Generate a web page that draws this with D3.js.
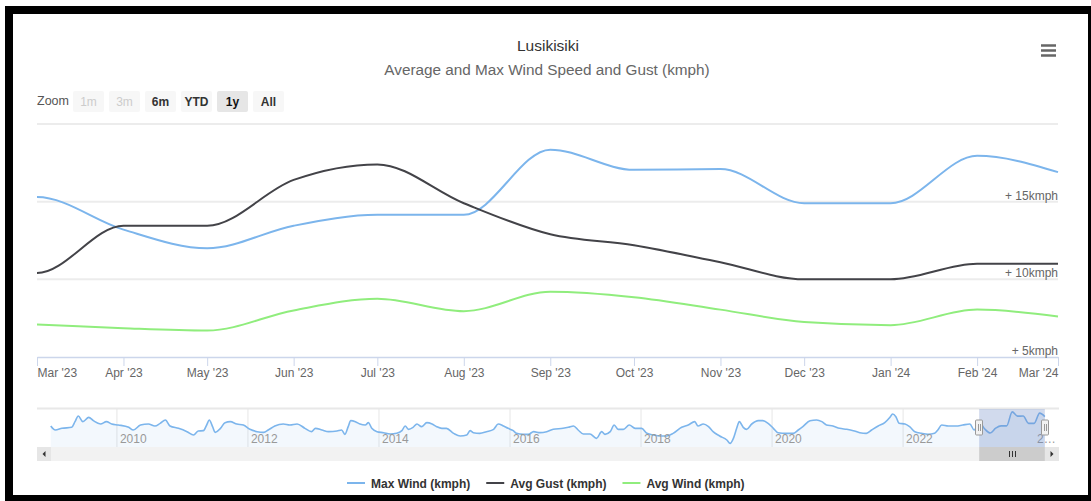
<!DOCTYPE html>
<html>
<head>
<meta charset="utf-8">
<script src="https://cdn.jsdelivr.net/npm/d3@7"></script>
<style>
  body { margin: 0; background: #fff; }
  svg text { font-family: "Liberation Sans", Arial, sans-serif; }
</style>
</head>
<body>
<div id="chart"></div>
<script>
// monthly values; Feb '23 sits just left of the visible window (clipped), Mar '23 .. Mar '24 shown
const months = ["2023-02", "2023-03", "2023-04", "2023-05", "2023-06", "2023-07", "2023-08", "2023-09",
  "2023-10", "2023-11", "2023-12", "2024-01", "2024-02", "2024-03"];
const maxWind = [12.9, 15.3, 13.2, 12.0, 13.45, 14.15, 14.15, 18.35, 17.05, 17.1, 14.9, 14.9, 17.95, 16.9];
const avgGust = [11.5, 10.4, 13.45, 13.45, 16.4, 17.4, 14.9, 12.9, 12.2, 11.1, 10.0, 10.0, 11.0, 11.0];
const avgWind = [7.3, 7.1, 6.85, 6.7, 8.0, 8.75, 7.95, 9.2, 8.85, 8.05, 7.25, 7.05, 8.05, 7.6];

const seriesNames = ["Max Wind (kmph)", "Avg Gust (kmph)", "Avg Wind (kmph)"];
const seriesColors = ["#7cb5ec", "#434348", "#90ed7d"];

const yTicks = [5, 10, 15, 20];
const yTickLabels = ["+ 5kmph", "+ 10kmph", "+ 15kmph", ""];

const rangeButtons = ["1m", "3m", "6m", "YTD", "1y", "All"];
const rangeState = ["disabled", "disabled", "normal", "normal", "selected", "normal"];

// navigator (whole history of max wind), decimal years, read from the overview strip
const navYear = [2008.99,2009.06,2009.16,2009.31,2009.36,2009.41,2009.48,2009.57,2009.64,2009.75,2009.84,2009.92,
  2010.02,2010.18,2010.25,2010.36,2010.48,2010.58,2010.66,2010.74,2010.81,2010.94,
  2011.07,2011.17,2011.24,2011.32,2011.37,2011.41,2011.46,2011.50,2011.58,2011.65,2011.73,2011.83,2011.93,
  2012.03,2012.14,2012.24,2012.31,2012.41,2012.54,2012.64,
  2012.75,2012.87,2012.97,2013.03,2013.13,2013.23,2013.36,2013.43,2013.48,2013.53,2013.57,2013.64,2013.71,2013.79,2013.84,2013.89,
  2013.97,2014.07,2014.17,2014.27,2014.35,2014.40,2014.45,2014.52,2014.58,2014.65,2014.73,2014.81,2014.88,2014.96,
  2015.03,2015.14,2015.24,2015.34,2015.39,2015.44,2015.54,2015.64,2015.75,2015.82,2015.90,2015.97,2016.05,2016.10,2016.20,2016.28,2016.36,2016.46,2016.56,2016.66,
  2016.81,2016.89,2016.97,2017.04,2017.12,2017.22,2017.32,2017.40,2017.45,2017.53,2017.59,2017.65,2017.73,2017.82,2017.91,
  2018.01,2018.09,2018.19,2018.29,2018.39,2018.49,2018.62,2018.72,2018.82,2018.87,2018.95,2019.03,2019.10,2019.20,2019.31,2019.36,2019.41,
  2019.46,2019.50,2019.56,2019.61,2019.69,2019.79,2019.86,2019.94,2020.02,2020.09,2020.22,2020.32,2020.40,2020.47,2020.58,2020.68,
  2020.76,2020.83,2020.93,2021.03,2021.14,2021.24,2021.34,2021.44,2021.52,2021.62,2021.72,2021.80,2021.84,2021.89,2021.94,
  2022.03,2022.10,2022.18,2022.28,2022.38,2022.48,2022.53,2022.59,2022.69,2022.81,2022.91,2023.02];
const navMaxWind = [14.1,12.9,13.4,13.7,15.4,17.1,15.4,16.7,15.7,14.7,15.4,14.7,
  14.4,13.7,12.9,14.4,14.7,14.1,14.9,15.9,14.1,13.4,
  12.4,11.4,12.6,12.7,14.4,15.9,13.9,12.2,13.4,15.1,15.4,14.7,14.4,
  13.1,12.4,12.2,12.9,14.1,14.7,14.4,
  14.7,13.4,12.4,13.4,12.9,12.4,12.6,12.9,11.6,13.9,15.7,15.4,14.7,14.4,15.1,13.4,
  12.4,12.1,11.7,11.9,12.7,14.1,13.1,13.7,14.7,13.9,15.1,14.7,13.9,13.4,
  13.4,11.9,11.1,11.4,12.7,12.1,11.9,12.4,13.1,14.7,14.1,13.4,12.7,11.9,11.6,11.6,12.4,12.1,12.4,13.1,
  13.4,13.7,14.1,12.9,11.7,11.7,10.4,12.4,11.6,12.4,14.4,13.1,13.1,14.4,13.4,
  13.4,11.9,11.4,11.1,11.1,11.9,13.7,14.4,15.4,14.1,14.7,13.9,12.4,11.1,9.9,8.9,10.4,
  13.4,15.4,13.7,13.1,14.7,15.7,15.7,14.9,13.4,12.1,11.9,11.9,12.9,13.9,15.7,15.9,
  15.4,14.4,14.1,13.4,13.1,12.7,12.1,11.9,12.9,14.1,15.1,16.7,17.7,16.9,14.9,
  14.7,13.9,12.4,11.9,11.6,11.9,12.9,14.4,14.1,14.1,14.4,14.7];
const navYearTicks = [2010, 2012, 2014, 2016, 2018, 2020, 2022, 2024];
const navYearLabels = ["2010", "2012", "2014", "2016", "2018", "2020", "2022", "2\u2026"];

const W = 1091, H = 501;
const parseMonth = d3.timeParse("%Y-%m");
const dates = months.map(parseMonth);
const visStart = dates[1], visEnd = dates[dates.length - 1];

function decYear(d) {
  const y = d.getFullYear();
  const a = new Date(y, 0, 1), b = new Date(y + 1, 0, 1);
  return y + (d - a) / (b - a);
}

const svg = d3.select("#chart")
  .append("svg")
  .attr("width", W)
  .attr("height", H);

/* frame */
svg.append("rect")
  .attr("x", 9).attr("y", 10)
  .attr("width", 1083).attr("height", 489)
  .attr("fill", "#fff")
  .attr("stroke", "#000")
  .attr("stroke-width", 8);

/* titles */
svg.append("text")
  .attr("x", 548).attr("y", 51)
  .attr("text-anchor", "middle")
  .attr("font-size", 15.5)
  .attr("fill", "#333")
  .text("Lusikisiki");

svg.append("text")
  .attr("x", 547).attr("y", 75)
  .attr("text-anchor", "middle")
  .attr("font-size", 15.3)
  .attr("fill", "#666")
  .text("Average and Max Wind Speed and Gust (kmph)");

// hamburger menu
[45.5, 50.5, 55.5].forEach(yy => {
  svg.append("line")
    .attr("x1", 1041).attr("x2", 1056)
    .attr("y1", yy).attr("y2", yy)
    .attr("stroke", "#666")
    .attr("stroke-width", 2.5);
});

/* range selector */
svg.append("text")
  .attr("x", 37).attr("y", 105)
  .attr("font-size", 12.5)
  .attr("fill", "#555")
  .text("Zoom");

const btn = svg.append("g").selectAll("g")
  .data(rangeButtons)
  .join("g")
  .attr("transform", (d, i) => `translate(${73 + i * 36},91)`);

btn.append("rect")
  .attr("width", 31).attr("height", 21).attr("rx", 2)
  .attr("fill", (d, i) => rangeState[i] === "selected" ? "#e6e6e6" : "#f7f7f7");

btn.append("text")
  .attr("x", 15.5).attr("y", 14.5)
  .attr("text-anchor", "middle")
  .attr("font-size", 12)
  .attr("font-weight", (d, i) => rangeState[i] === "disabled" ? "normal" : "bold")
  .attr("fill", (d, i) => rangeState[i] === "disabled" ? "#cccccc" : (rangeState[i] === "selected" ? "#111" : "#333"))
  .text(d => d);

/* main plot */
const plot = { left: 37, right: 1058, top: 124, bottom: 357 };

const x = d3.scaleTime()
  .domain([visStart, visEnd])
  .range([plot.left, plot.right]);

const y = d3.scaleLinear()
  .domain([5, 20])
  .range([plot.bottom, plot.top]);

svg.append("clipPath")
  .attr("id", "plot-clip")
  .append("rect")
  .attr("x", plot.left).attr("y", 0)
  .attr("width", plot.right - plot.left + 1).attr("height", H);

// horizontal grid
svg.append("g")
  .selectAll("line")
  .data(yTicks.filter(v => v > 5))
  .join("line")
  .attr("x1", plot.left).attr("x2", plot.right)
  .attr("y1", d => y(d)).attr("y2", d => y(d))
  .attr("stroke", "#ececec")
  .attr("stroke-width", 2);

// x axis
const xAxisG = svg.append("g")
  .attr("transform", `translate(0,${plot.bottom})`)
  .call(d3.axisBottom(x)
    .ticks(d3.timeMonth.every(1))
    .tickFormat(d3.timeFormat("%b '%y"))
    .tickSize(9)
    .tickSizeOuter(0)
    .tickPadding(2));

xAxisG.select(".domain").attr("stroke", "#ccd6eb").attr("stroke-width", 1.5);
xAxisG.selectAll(".tick line").attr("stroke", "#ccd6eb");
xAxisG.selectAll(".tick text")
  .attr("fill", "#666")
  .attr("font-size", 12)
  .attr("font-family", null);
const tickTexts = xAxisG.selectAll(".tick text").nodes();
d3.select(tickTexts[0]).attr("text-anchor", "start");
d3.select(tickTexts[tickTexts.length - 1]).attr("text-anchor", "end");

// y labels, right side inside the plot
svg.append("g")
  .selectAll("text")
  .data(yTicks)
  .join("text")
  .attr("x", plot.right)
  .attr("y", d => y(d) - 2)
  .attr("text-anchor", "end")
  .attr("font-size", 12)
  .attr("fill", "#666")
  .text((d, i) => yTickLabels[i]);

// series
const allSeries = [maxWind, avgGust, avgWind];
const line = d3.line()
  .x((d, i) => x(dates[i]))
  .y(d => y(d))
  .curve(d3.curveMonotoneX);

const seriesG = svg.append("g").attr("clip-path", "url(#plot-clip)");
allSeries.forEach((vals, s) => {
  seriesG.append("path")
    .datum(vals)
    .attr("fill", "none")
    .attr("stroke", seriesColors[s])
    .attr("stroke-width", 2)
    .attr("stroke-linejoin", "round")
    .attr("d", line);
});

/* navigator */
const nav = { left: 37, right: 1059, top: 409, bottom: 447 };
const nx = d3.scaleLinear().domain([2008.78, 2024.38]).range([nav.left, nav.right]);
const ny = d3.scaleLinear().domain([7.8, 19.2]).range([nav.bottom, nav.top]);

const navData = navYear.map((yr, i) => [yr, navMaxWind[i]])
  .concat(dates.map((d, i) => [decYear(d), maxWind[i]]));

svg.append("line")
  .attr("x1", nav.left).attr("x2", nav.right)
  .attr("y1", nav.top - 0.5).attr("y2", nav.top - 0.5)
  .attr("stroke", "#e8e8e8")
  .attr("stroke-width", 2);

svg.append("g")
  .selectAll("line")
  .data(navYearTicks.slice(0, -1))
  .join("line")
  .attr("x1", d => nx(d)).attr("x2", d => nx(d))
  .attr("y1", nav.top).attr("y2", nav.bottom)
  .attr("stroke", "#e6e6e6");

svg.append("path")
  .datum(navData)
  .attr("fill", "#7cb5ec")
  .attr("fill-opacity", 0.09)
  .attr("d", d3.area()
    .x(d => nx(d[0]))
    .y0(nav.bottom)
    .y1(d => ny(d[1]))
    .curve(d3.curveMonotoneX));

svg.append("path")
  .datum(navData)
  .attr("fill", "none")
  .attr("stroke", "#7cb5ec")
  .attr("stroke-width", 1.6)
  .attr("d", d3.line()
    .x(d => nx(d[0]))
    .y(d => ny(d[1]))
    .curve(d3.curveMonotoneX));

svg.append("g")
  .selectAll("text")
  .data(navYearTicks)
  .join("text")
  .attr("x", d => nx(d) + 3)
  .attr("y", 443)
  .attr("font-size", 12)
  .attr("fill", "#999")
  .text((d, i) => navYearLabels[i]);

const selX0 = nx(decYear(visStart));
const selX1 = nx(decYear(visEnd));

svg.append("rect")
  .attr("x", selX0).attr("y", nav.top)
  .attr("width", selX1 - selX0).attr("height", nav.bottom - nav.top)
  .attr("fill", "rgba(102,133,194,0.3)");

[selX0, selX1].forEach(hx => {
  const g = svg.append("g").attr("transform", `translate(${Math.round(hx)},420)`);
  g.append("rect")
    .attr("x", -3.5).attr("y", 0)
    .attr("width", 7).attr("height", 15).attr("rx", 1)
    .attr("fill", "#f2f2f2")
    .attr("stroke", "#999");
  [-1, 1].forEach(o => {
    g.append("line")
      .attr("x1", o + 0.5).attr("x2", o + 0.5)
      .attr("y1", 4).attr("y2", 11)
      .attr("stroke", "#999");
  });
});

/* scrollbar */
const sb = { top: 447, h: 14 };
svg.append("rect")
  .attr("x", nav.left).attr("y", sb.top)
  .attr("width", nav.right - nav.left).attr("height", sb.h)
  .attr("fill", "#f2f2f2");

svg.append("rect")
  .attr("x", selX0).attr("y", sb.top)
  .attr("width", selX1 - selX0).attr("height", sb.h)
  .attr("fill", "#cccccc");

const thumbMid = (selX0 + selX1) / 2;
[-3, 0, 3].forEach(o => {
  svg.append("line")
    .attr("x1", Math.round(thumbMid) + o + 0.5).attr("x2", Math.round(thumbMid) + o + 0.5)
    .attr("y1", sb.top + 4).attr("y2", sb.top + 10)
    .attr("stroke", "#333");
});

[nav.left, nav.right - 14].forEach((bx, i) => {
  svg.append("rect")
    .attr("x", bx).attr("y", sb.top)
    .attr("width", 14).attr("height", sb.h)
    .attr("fill", "#e6e6e6");
  const cx = bx + 7, cy = sb.top + 7;
  const pts = i === 0
    ? [[cx + 1.5, cy - 3], [cx + 1.5, cy + 3], [cx - 1.5, cy]]
    : [[cx - 1.5, cy - 3], [cx - 1.5, cy + 3], [cx + 1.5, cy]];
  svg.append("path")
    .attr("d", d3.line()(pts) + "Z")
    .attr("fill", "#333");
});

/* legend */
let cursor = 347;
seriesNames.forEach((name, i) => {
  svg.append("line")
    .attr("x1", cursor).attr("x2", cursor + 18)
    .attr("y1", 483).attr("y2", 483)
    .attr("stroke", seriesColors[i])
    .attr("stroke-width", 2);
  const t = svg.append("text")
    .attr("x", cursor + 24).attr("y", 487.5)
    .attr("font-size", 12)
    .attr("font-weight", "bold")
    .attr("fill", "#333")
    .text(name);
  cursor = cursor + 24 + t.node().getComputedTextLength() + 16;
});
</script>
</body>
</html>
